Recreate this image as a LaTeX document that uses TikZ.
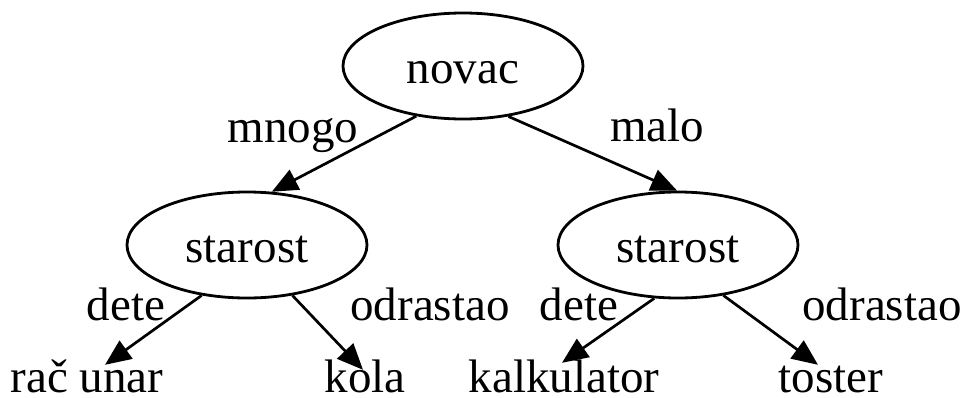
\documentclass[tikz,border=0pt]{standalone}
\usepackage{fontspec}
\setmainfont{Liberation Serif}
\usetikzlibrary{shapes.geometric,arrows.meta,calc}
\begin{document}
\begin{tikzpicture}[x=1pt,y=-1pt,
  every node/.style={font=\fontsize{47}{56}\selectfont},
  dnode/.style={ellipse, draw, line width=2.8pt, minimum width=240pt, minimum height=106pt, inner sep=0pt, text height=34pt, text depth=0pt},
  leaf/.style={inner sep=0pt, text height=27pt, text depth=0pt, anchor=base},
  lbl/.style={inner sep=0pt, anchor=base},
  edgeline/.style={line width=2.7pt, -{Triangle[length=26pt,width=22pt]}}]
\useasboundingbox (0,0) rectangle (970,397);
% decision nodes
\node[dnode] (novac) at (463,66) {novac};
\node[dnode] (ls) at (247,245) {starost};
\node[dnode] (rs) at (678,245) {starost};
% leaves
\node[leaf] (racunar) at (87,392) {rač unar};
\node[leaf] (kola) at (365,392) {kola};
\node[leaf] (kalk) at (564,392) {kalkulator};
\node[leaf] (toster) at (831,392) {toster};
% labels
\node[lbl] (mnogo) at (293,142) {mnogo};
\node[lbl] (malo) at (657,141) {malo};
\node[lbl] (dete1) at (126,320) {dete};
\node[lbl] (odr1) at (430,320) {odrastao};
\node[lbl] (dete2) at (579,320) {dete};
\node[lbl] (odr2) at (882,320) {odrastao};
% edges
\draw[edgeline] (novac.227.9) -- (ls.65.2);
\draw[edgeline] (novac.312.1) -- (rs.91);
\draw[edgeline] (ls.228.4) -- ($(racunar.north)+(18,0)$);
\draw[edgeline] (ls.312.2) -- ($(kola.north)+(-2,5)$);
\draw[edgeline] (rs.246.5) -- ($(kalk.north)+(-2,-2)$);
\draw[edgeline] (rs.312.8) -- ($(toster.north)+(-13,0)$);
\end{tikzpicture}
\end{document}
